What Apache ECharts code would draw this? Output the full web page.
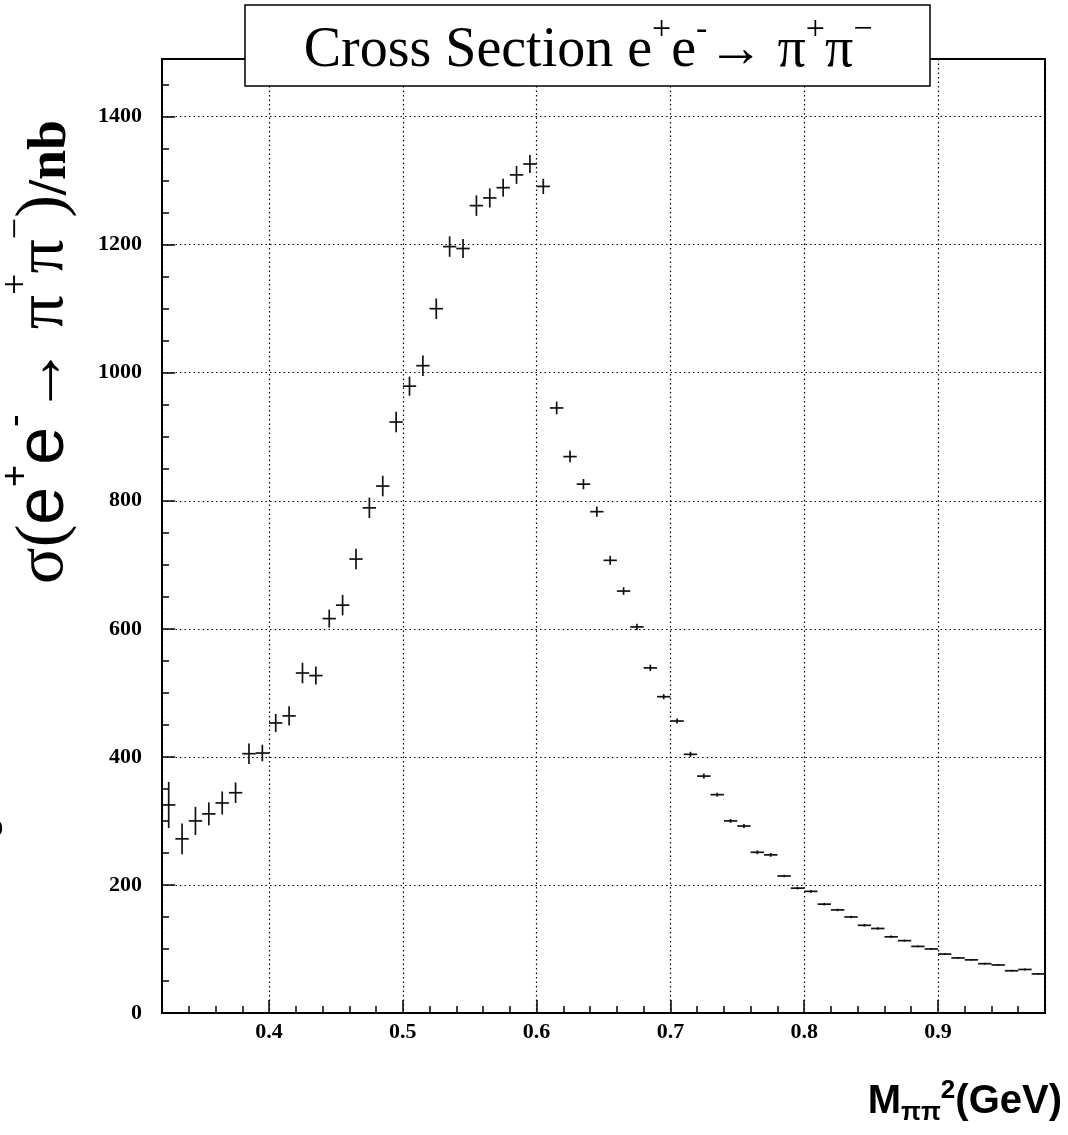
<!DOCTYPE html>
<html>
<head>
<meta charset="utf-8">
<script src="https://cdn.jsdelivr.net/npm/echarts@6/dist/echarts.min.js"></script>
<style>
html,body{margin:0;padding:0;background:#fff;}
#c{width:1068px;height:1135px;}
</style>
</head>
<body>
<div id="c"></div>
<script>
// ---- data ----
const binCenters = [
  0.325,0.335,0.345,0.355,0.365,0.375,0.385,0.395,0.405,0.415,
  0.425,0.435,0.445,0.455,0.465,0.475,0.485,0.495,0.505,0.515,
  0.525,0.535,0.545,0.555,0.565,0.575,0.585,0.595,0.605,0.615,
  0.625,0.635,0.645,0.655,0.665,0.675,0.685,0.695,0.705,0.715,
  0.725,0.735,0.745,0.755,0.765,0.775,0.785,0.795,0.805,0.815,
  0.825,0.835,0.845,0.855,0.865,0.875,0.885,0.895,0.905,0.915,
  0.925,0.935,0.945,0.955,0.965,0.975
];
const crossSection = [
  325,272,300,311,328,344,405,406,453,464,
  531,527,616,637,709,789,823,923,979,1011,
  1100,1197,1194,1261,1273,1289,1309,1326,1291,945,
  869,826,783,707,659,603,539,494,456,404,
  370,341,300,292,251,247,214,195,190,170,
  161,150,137,132,119,113,104,100,92,86,
  83,77,75,66,68,61
];
const crossSectionErr = [
  36,24,22,18,18,16,16,13,14,15,
  16,14,14,16,16,16,16,16,15,16,
  16,16,15,16,15,14,14,14,12,10,
  9,8,8,7,6,5,5,4,4,4,
  4,3,3,3,3,3,2,2,2,2,
  2,2,2,2,2,1.5,1.5,1.5,1.5,1.5,
  1.5,1.5,1.5,1.5,1.5,1.5
];
const binWidth = 0.01;
const xRange = [0.32, 0.98];
const yRange = [0, 1490];
const xStep = 0.1;
const yStep = 200;

const titleText = '{n|Cross Section e}{s|+}{n|e}{s|-}{n|→ π}{s|+}{n|π}{s|−}';
const yTitleText = '{g|σ(}{e|e}{es|+}{e|e}{es|-}{g|→ π}{gs|+}{g|π}{gs|−}{g|)}{b|/nb}';
const xTitleText = '{m|M}{sub|ππ}{sup|2}{m|(GeV)}';

// ---- chart ----
const chart = echarts.init(document.getElementById('c'), null, {renderer: 'canvas'});
const points = binCenters.map((x, i) => [x, crossSection[i], crossSectionErr[i]]);

const labelFont = {fontFamily: 'Liberation Serif', fontWeight: 'bold', fontSize: 22, color: '#000'};
const gridDots = {color: '#000', width: 1.2, type: [1.5, 3]};

const option = {
  animation: false,
  backgroundColor: '#fff',
  grid: {
    left: 162, right: 23, top: 59, bottom: 122,
    show: true, borderColor: '#000', borderWidth: 2, backgroundColor: 'transparent',
    containLabel: false, outerBoundsMode: 'none'
  },
  xAxis: {
    type: 'value', min: xRange[0], max: xRange[1], minInterval: xStep, maxInterval: xStep,
    axisLine: {show: true, onZero: false, lineStyle: {color: '#000', width: 2}},
    axisTick: {show: true, inside: true, length: 13, lineStyle: {color: '#000', width: 1.5}},
    minorTick: {show: true, splitNumber: 5, length: 7, lineStyle: {color: '#000', width: 1.5}},
    splitLine: {show: true, lineStyle: gridDots},
    axisLabel: Object.assign({margin: 8, showMinLabel: false, showMaxLabel: false,
      formatter: v => v.toFixed(1)}, labelFont)
  },
  yAxis: {
    type: 'value', min: yRange[0], max: yRange[1], minInterval: yStep, maxInterval: yStep,
    axisLine: {show: true, onZero: false, lineStyle: {color: '#000', width: 2}},
    axisTick: {show: true, inside: true, length: 13, lineStyle: {color: '#000', width: 1.5}},
    minorTick: {show: true, splitNumber: 4, length: 7, lineStyle: {color: '#000', width: 1.5}},
    splitLine: {show: true, lineStyle: gridDots},
    axisLabel: Object.assign({margin: 20, showMinLabel: true, showMaxLabel: false,
      formatter: v => String(Math.round(v))}, labelFont)
  },
  series: [{
    type: 'custom',
    clip: true,
    data: points,
    encode: {x: 0, y: 1},
    renderItem: function (params, api) {
      const x = api.value(0), y = api.value(1), e = api.value(2);
      const c = api.coord([x, y]);
      const l = api.coord([x - binWidth / 2, y]);
      const r = api.coord([x + binWidth / 2, y]);
      const t = api.coord([x, y + e]);
      const b = api.coord([x, y - e]);
      const st = {stroke: '#111', lineWidth: 1.7};
      return {
        type: 'group',
        children: [
          {type: 'line', shape: {x1: l[0], y1: c[1], x2: r[0], y2: c[1]}, style: st},
          {type: 'line', shape: {x1: c[0], y1: t[1], x2: c[0], y2: b[1]}, style: st}
        ]
      };
    }
  }],
  graphic: [
    {
      type: 'rect', z: 100,
      shape: {x: 245, y: 5, width: 685, height: 81},
      style: {fill: '#fff', stroke: '#000', lineWidth: 1.5}
    },
    {
      type: 'text', z: 101, x: 588, y: 46,
      style: {
        text: titleText, align: 'center', verticalAlign: 'middle', fill: '#000',
        rich: {
          n: {fontFamily: 'Liberation Serif', fontSize: 56, lineHeight: 66, verticalAlign: 'bottom', fill: '#000'},
          s: {fontFamily: 'Liberation Serif', fontSize: 34, lineHeight: 40, verticalAlign: 'top', fill: '#000'}
        }
      }
    },
    {
      type: 'text', z: 101, x: 78, y: 352, rotation: Math.PI / 2,
      style: {
        text: yTitleText, align: 'center', verticalAlign: 'bottom', fill: '#000',
        rich: {
          g: {fontFamily: 'Liberation Serif', fontSize: 68, lineHeight: 80, verticalAlign: 'bottom', fill: '#000'},
          e: {fontFamily: 'Liberation Sans', fontSize: 68, lineHeight: 80, verticalAlign: 'bottom', fill: '#000'},
          es: {fontFamily: 'Liberation Sans', fontSize: 38, lineHeight: 40, verticalAlign: 'top', fill: '#000'},
          gs: {fontFamily: 'Liberation Serif', fontSize: 38, lineHeight: 40, verticalAlign: 'top', fill: '#000'},
          b: {fontFamily: 'Liberation Serif', fontWeight: 'bold', fontSize: 54, lineHeight: 72, verticalAlign: 'bottom', fill: '#000'}
        }
      }
    },
    {
      type: 'text', z: 101, x: 1062, y: 1126,
      style: {
        text: xTitleText, align: 'right', verticalAlign: 'bottom', fill: '#000',
        rich: {
          m: {fontFamily: 'Liberation Sans', fontWeight: 'bold', fontSize: 40, lineHeight: 40, verticalAlign: 'middle', fill: '#000'},
          sub: {fontFamily: 'Liberation Sans', fontWeight: 'bold', fontSize: 26, lineHeight: 26, verticalAlign: 'bottom', fill: '#000'},
          sup: {fontFamily: 'Liberation Sans', fontWeight: 'bold', fontSize: 26, lineHeight: 48, verticalAlign: 'top', fill: '#000'}
        }
      }
    },
    {
      type: 'text', z: 101, x: -9, y: 830,
      style: {text: '9', fontFamily: 'Liberation Serif', fontWeight: 'bold', fontSize: 24, verticalAlign: 'middle', fill: '#000'}
    }
  ]
};
chart.setOption(option);
</script>
</body>
</html>
